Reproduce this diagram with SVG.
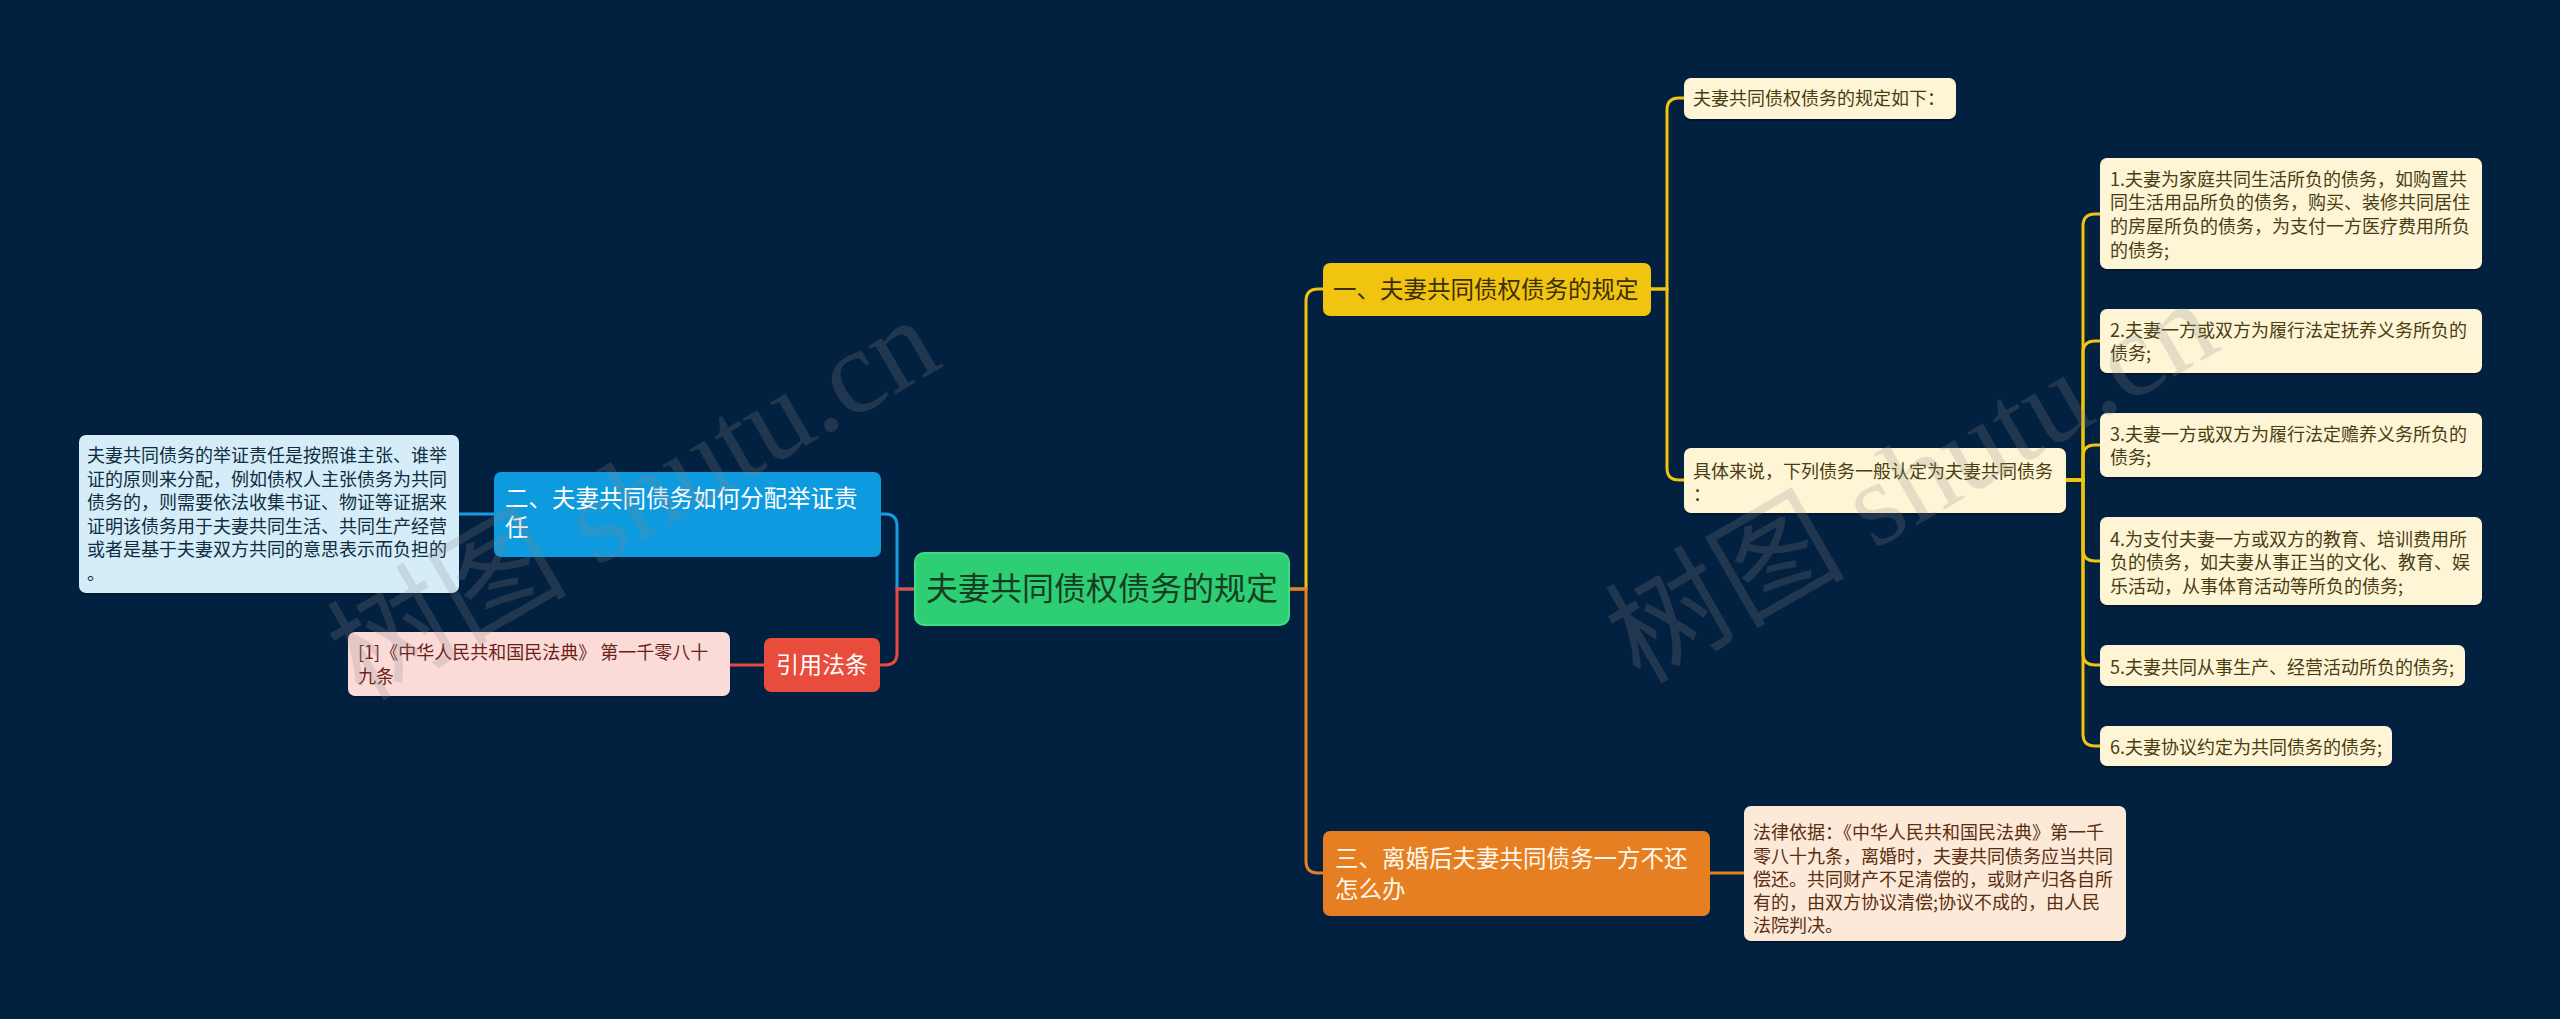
<svg xmlns="http://www.w3.org/2000/svg" width="2560" height="1019" viewBox="0 0 2560 1019">
<style>
text{font-family:"Noto Sans CJK SC","Noto Sans",sans-serif}
.c{fill:none;stroke-width:3;stroke-linecap:round}
.y{stroke:#f1c40f}.o{stroke:#e67e22}.b{stroke:#1a9be0}.r{stroke:#e74c3c}
.leaf{font-size:18px}
.l1{font-size:23.5px}
.sh{fill:#000;opacity:0.25}
.wm{font-family:"Liberation Serif","Noto Sans CJK SC",serif;font-size:120px;fill:#8a8a8a;opacity:0.22}
</style>
<rect width="2560" height="1019" fill="#02203f"/>
<g id="connectors">
<path class="c y" d="M1288,589 H1306 V301 Q1306,289 1318,289 H1323"/>
<path class="c o" d="M1288,589 H1306 V861 Q1306,873 1318,873 H1323"/>
<path class="c b" d="M915,589 H897 V526 Q897,514 885,514 H881"/>
<path class="c r" d="M915,589 H897 V653 Q897,665 885,665 H880"/>
<path class="c b" d="M494,514 H459"/>
<path class="c r" d="M764,665 H730"/>
<path class="c o" d="M1710,873 H1744"/>
<path class="c y" d="M1651,289 H1667 V110 Q1667,98 1679,98 H1684"/>
<path class="c y" d="M1651,289 H1667 V468 Q1667,480 1679,480 H1684"/>
<path class="c y" d="M2066,480 H2083 V226 Q2083,214 2095,214 H2100"/>
<path class="c y" d="M2066,480 H2083 V353 Q2083,341 2095,341 H2100"/>
<path class="c y" d="M2066,480 H2083 V457 Q2083,445 2095,445 H2100"/>
<path class="c y" d="M2066,480 H2083 V549 Q2083,561 2095,561 H2100"/>
<path class="c y" d="M2066,480 H2083 V653 Q2083,665 2095,665 H2100"/>
<path class="c y" d="M2066,480 H2083 V734 Q2083,746 2095,746 H2100"/>
</g>
<g id="root">
<rect x="915" y="553" width="374" height="72" rx="9" fill="#2ecf74" stroke="#3fdc85" stroke-width="2"/>
<text x="1102" y="600" font-size="32" fill="#163d22" text-anchor="middle">夫妻共同债权债务的规定</text>
</g>
<g id="n1">
<rect x="1323" y="263" width="328" height="53" rx="7" fill="#f1c40f"/>
<text class="l1" x="1333" y="298" fill="#3b2f06">一、夫妻共同债权债务的规定</text>
</g>
<g id="n1a">
<rect class="sh" x="1684" y="80" width="272" height="41" rx="7"/>
<rect x="1684" y="78" width="272" height="41" rx="7" fill="#fdf5d6"/>
<text class="leaf" x="1693" y="105" fill="#4a3d12">夫妻共同债权债务的规定如下：</text>
</g>
<g id="n1b">
<rect class="sh" x="1684" y="450" width="382" height="65" rx="7"/>
<rect x="1684" y="448" width="382" height="65" rx="7" fill="#fdf5d6"/>
<text class="leaf" fill="#4a3d12"><tspan x="1693" y="478">具体来说，下列债务一般认定为夫妻共同债务</tspan><tspan x="1693" y="501">：</tspan></text>
</g>
<g id="i1">
<rect class="sh" x="2100" y="160" width="382" height="111" rx="7"/>
<rect x="2100" y="158" width="382" height="111" rx="7" fill="#fdf5d6"/>
<text class="leaf" fill="#4a3d12"><tspan x="2110" y="186">1.夫妻为家庭共同生活所负的债务，如购置共</tspan><tspan x="2110" y="209">同生活用品所负的债务，购买、装修共同居住</tspan><tspan x="2110" y="233">的房屋所负的债务，为支付一方医疗费用所负</tspan><tspan x="2110" y="257">的债务;</tspan></text>
</g>
<g id="i2">
<rect class="sh" x="2100" y="311" width="382" height="64" rx="7"/>
<rect x="2100" y="309" width="382" height="64" rx="7" fill="#fdf5d6"/>
<text class="leaf" fill="#4a3d12"><tspan x="2110" y="337">2.夫妻一方或双方为履行法定抚养义务所负的</tspan><tspan x="2110" y="360">债务;</tspan></text>
</g>
<g id="i3">
<rect class="sh" x="2100" y="415" width="382" height="64" rx="7"/>
<rect x="2100" y="413" width="382" height="64" rx="7" fill="#fdf5d6"/>
<text class="leaf" fill="#4a3d12"><tspan x="2110" y="441">3.夫妻一方或双方为履行法定赡养义务所负的</tspan><tspan x="2110" y="464">债务;</tspan></text>
</g>
<g id="i4">
<rect class="sh" x="2100" y="519" width="382" height="88" rx="7"/>
<rect x="2100" y="517" width="382" height="88" rx="7" fill="#fdf5d6"/>
<text class="leaf" fill="#4a3d12"><tspan x="2110" y="546">4.为支付夫妻一方或双方的教育、培训费用所</tspan><tspan x="2110" y="569">负的债务，如夫妻从事正当的文化、教育、娱</tspan><tspan x="2110" y="593">乐活动，从事体育活动等所负的债务;</tspan></text>
</g>
<g id="i5">
<rect class="sh" x="2100" y="647" width="365" height="41" rx="7"/>
<rect x="2100" y="645" width="365" height="41" rx="7" fill="#fdf5d6"/>
<text class="leaf" x="2110" y="674" fill="#4a3d12">5.夫妻共同从事生产、经营活动所负的债务;</text>
</g>
<g id="i6">
<rect class="sh" x="2100" y="728" width="292" height="40" rx="7"/>
<rect x="2100" y="726" width="292" height="40" rx="7" fill="#fdf5d6"/>
<text class="leaf" x="2110" y="754" fill="#4a3d12">6.夫妻协议约定为共同债务的债务;</text>
</g>
<g id="n3">
<rect x="1323" y="831" width="387" height="85" rx="7" fill="#e67e22"/>
<text class="l1" fill="#fff8ee"><tspan x="1335" y="867">三、离婚后夫妻共同债务一方不还</tspan><tspan x="1335" y="898">怎么办</tspan></text>
</g>
<g id="n3a">
<rect class="sh" x="1744" y="808" width="382" height="135" rx="7"/>
<rect x="1744" y="806" width="382" height="135" rx="7" fill="#fde9d8"/>
<text class="leaf" fill="#5a2e10"><tspan x="1753" y="839">法律依据：《中华人民共和国民法典》第一千</tspan><tspan x="1753" y="863">零八十九条，离婚时，夫妻共同债务应当共同</tspan><tspan x="1753" y="886">偿还。共同财产不足清偿的，或财产归各自所</tspan><tspan x="1753" y="909">有的，由双方协议清偿;协议不成的，由人民</tspan><tspan x="1753" y="932">法院判决。</tspan></text>
</g>
<g id="n2">
<rect x="494" y="472" width="387" height="85" rx="7" fill="#0e9ade"/>
<text class="l1" fill="#ffffff"><tspan x="505" y="507">二、夫妻共同债务如何分配举证责</tspan><tspan x="505" y="536">任</tspan></text>
</g>
<g id="n2a">
<rect class="sh" x="79" y="437" width="380" height="158" rx="7"/>
<rect x="79" y="435" width="380" height="158" rx="7" fill="#d5edf9"/>
<text class="leaf" fill="#102c40"><tspan x="87" y="462">夫妻共同债务的举证责任是按照谁主张、谁举</tspan><tspan x="87" y="486">证的原则来分配，例如债权人主张债务为共同</tspan><tspan x="87" y="509">债务的，则需要依法收集书证、物证等证据来</tspan><tspan x="87" y="533">证明该债务用于夫妻共同生活、共同生产经营</tspan><tspan x="87" y="556">或者是基于夫妻双方共同的意思表示而负担的</tspan><tspan x="87" y="580">。</tspan></text>
</g>
<g id="ref">
<rect x="764" y="638" width="116" height="54" rx="7" fill="#e74c3c"/>
<text x="822" y="673" font-size="23" fill="#ffffff" text-anchor="middle">引用法条</text>
</g>
<g id="ref1">
<rect class="sh" x="348" y="634" width="382" height="64" rx="7"/>
<rect x="348" y="632" width="382" height="64" rx="7" fill="#fadbd8"/>
<text class="leaf" fill="#6b1f16"><tspan x="358" y="659">[1]《中华人民共和国民法典》 第一千零八十</tspan><tspan x="358" y="683">九条</tspan></text>
</g>
<g id="watermarks">
<text class="wm" transform="translate(362,702) rotate(-30)">树图 shutu.cn</text>
<text class="wm" transform="translate(1640,685) rotate(-30)">树图 shutu.cn</text>
</g>
</svg>
